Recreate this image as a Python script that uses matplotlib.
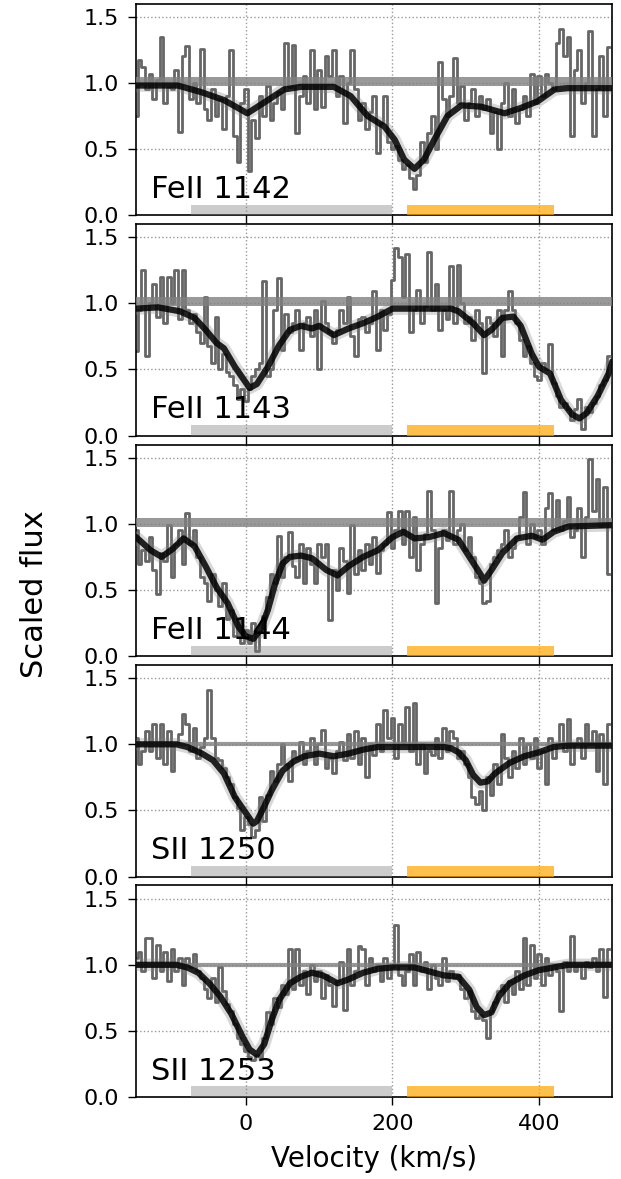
import numpy as np
import matplotlib
matplotlib.use("Agg")
import matplotlib.pyplot as plt

# line labels for each panel
labels = ["FeII 1142", "FeII 1143", "FeII 1144", "SII 1250", "SII 1253"]
continuum = [1.015, 1.02, 1.015, 1.0, 1.0]

# observed spectra, one value per 5 km/s starting at -150 km/s
flux_1142 = [0.75, 1.17, 1.12, 0.95, 1.07, 0.88, 1.02, 1.35, 0.85, 0.97,
             0.95, 1.10, 0.63, 1.20, 1.28, 0.88, 1.00, 0.85, 1.26, 0.80,
             0.72, 0.95, 0.75, 0.88, 0.65, 0.90, 1.25, 0.60, 0.40, 0.85,
             0.95, 0.33, 0.72, 0.58, 0.90, 0.75, 0.98, 0.72, 0.85, 0.93,
             0.80, 1.30, 0.97, 1.29, 0.62, 0.90, 1.05, 0.85, 1.25, 0.80,
             1.10, 0.82, 1.20, 1.05, 1.25, 0.90, 1.05, 0.70, 1.00, 1.25,
             0.95, 0.72, 0.85, 0.65, 0.78, 0.90, 0.47, 0.70, 0.90, 0.55,
             0.50, 0.52, 0.42, 0.35, 0.38, 0.28, 0.20, 0.30, 0.55, 0.40,
             0.62, 0.75, 0.50, 1.16, 0.88, 0.75, 0.90, 1.19, 0.85, 0.98,
             0.72, 0.85, 0.95, 0.75, 0.90, 0.80, 0.88, 0.62, 0.78, 0.50,
             0.85, 1.00, 0.75, 0.95, 0.70, 0.80, 0.90, 0.75, 1.07, 0.85,
             1.05, 0.90, 1.07, 1.00, 0.95, 1.30, 1.41, 1.20, 1.35, 0.60,
             1.10, 1.25, 0.85, 1.00, 1.39, 0.60, 0.95, 1.20, 0.75, 1.27]
flux_1143 = [0.64, 0.95, 1.25, 0.60, 1.00, 1.15, 0.90, 1.20, 0.85, 1.20,
             1.00, 1.25, 0.88, 1.25, 0.95, 0.85, 0.92, 0.78, 0.70, 1.05,
             0.68, 0.55, 0.90, 0.50, 0.62, 0.48, 0.45, 0.38, 0.28, 0.35,
             0.26, 0.35, 0.45, 0.50, 0.55, 1.17, 0.45, 0.50, 0.95, 1.19,
             0.65, 0.92, 0.78, 0.85, 0.95, 0.65, 0.85, 0.90, 0.75, 0.95,
             0.50, 1.02, 0.85, 0.78, 0.70, 0.80, 0.95, 0.85, 1.05, 0.75,
             0.60, 0.88, 0.90, 0.78, 0.85, 1.09, 0.65, 0.95, 0.80, 0.92,
             1.18, 1.42, 1.35, 1.05, 1.37, 0.78, 0.95, 1.10, 0.85, 0.98,
             1.39, 0.95, 1.15, 0.80, 0.95, 0.88, 1.28, 0.85, 1.29, 1.00,
             0.85, 0.90, 0.72, 0.95, 0.85, 0.47, 0.90, 0.85, 0.75, 0.95,
             0.60, 0.95, 1.09, 0.95, 0.85, 0.72, 0.60, 0.68, 0.55, 0.45,
             0.42, 0.55, 0.50, 0.69, 0.40, 0.30, 0.22, 0.25, 0.20, 0.12,
             0.20, 0.28, 0.05, 0.22, 0.18, 0.25, 0.30, 0.38, 0.42, 0.60]
flux_1144 = [0.95, 0.70, 0.80, 0.72, 0.90, 0.65, 0.47, 0.78, 0.72, 0.99,
             0.60, 0.85, 0.95, 0.70, 1.08, 0.85, 0.95, 0.75, 0.60, 0.55,
             0.42, 0.62, 0.50, 0.38, 0.55, 0.28, 0.35, 0.15, 0.28, 0.10,
             0.20, 0.10, 0.25, 0.04, 0.18, 0.30, 0.45, 0.62, 0.55, 0.91,
             0.60, 0.75, 0.94, 0.68, 0.60, 0.85, 0.55, 0.82, 0.70, 0.55,
             0.85, 0.75, 0.85, 0.27, 0.65, 0.50, 0.82, 0.72, 0.48, 0.99,
             0.62, 0.80, 0.65, 0.85, 0.70, 0.90, 0.63, 0.80, 0.85, 1.09,
             0.82, 0.95, 1.10, 0.85, 1.10, 0.75, 1.05, 0.65, 0.85, 0.92,
             1.25, 0.95, 0.40, 0.82, 0.95, 0.88, 1.25, 0.85, 0.95, 1.00,
             0.80, 0.90, 0.75, 0.60, 0.55, 0.40, 0.42, 0.70, 0.75, 0.80,
             0.85, 0.95, 0.75, 0.82, 0.90, 1.05, 1.24, 0.85, 1.00, 0.90,
             0.95, 0.85, 1.12, 1.23, 0.95, 1.18, 0.95, 1.02, 1.20, 0.90,
             0.95, 1.12, 0.75, 1.05, 1.49, 1.10, 1.34, 0.98, 1.28, 0.62]
flux_1250 = [1.05, 0.85, 0.95, 1.10, 0.95, 1.15, 0.90, 1.15, 0.85, 1.10,
             0.80, 1.00, 1.08, 1.23, 1.15, 0.95, 1.12, 0.90, 0.98, 1.05,
             1.41, 1.05, 0.90, 0.88, 0.82, 0.75, 0.70, 0.60, 0.52, 0.35,
             0.45, 0.40, 0.30, 0.35, 0.60, 0.42, 0.62, 0.80, 0.72, 0.85,
             1.00, 0.85, 0.72, 0.95, 0.90, 1.02, 0.85, 0.95, 1.05, 0.85,
             1.00, 1.11, 0.82, 0.90, 0.78, 0.95, 1.02, 0.88, 1.08, 0.90,
             1.10, 0.85, 1.05, 0.75, 1.00, 0.92, 1.15, 0.95, 1.26, 1.05,
             1.20, 0.90, 1.15, 1.02, 1.28, 0.95, 1.31, 0.85, 1.00, 0.78,
             0.95, 0.92, 1.05, 0.90, 1.12, 0.95, 1.10, 1.05, 0.90, 0.95,
             0.85, 0.75, 0.60, 0.55, 0.65, 0.50, 0.75, 0.62, 0.85, 0.70,
             1.08, 0.90, 0.75, 0.95, 0.82, 1.05, 0.85, 1.00, 0.90, 1.05,
             0.82, 0.95, 0.70, 1.05, 0.90, 1.00, 1.15, 0.95, 1.19, 0.85,
             1.00, 1.05, 0.90, 1.15, 1.00, 1.10, 0.80, 1.08, 0.70, 1.15]
flux_1253 = [1.05, 1.10, 0.95, 1.20, 1.20, 0.90, 1.15, 0.95, 1.10, 0.88,
             1.12, 0.95, 1.05, 0.85, 1.05, 0.98, 1.08, 0.95, 0.90, 0.82,
             0.75, 0.90, 0.72, 0.98, 0.80, 0.70, 0.65, 0.55, 0.45, 0.40,
             0.35, 0.30, 0.28, 0.32, 0.30, 0.45, 0.64, 0.55, 0.75, 0.68,
             0.85, 0.78, 1.12, 0.82, 1.12, 0.85, 0.95, 0.78, 1.00, 0.88,
             0.95, 0.75, 0.92, 0.85, 0.69, 0.88, 1.02, 0.66, 1.12, 0.85,
             0.95, 1.14, 1.12, 0.85, 1.05, 0.95, 1.00, 0.88, 1.05, 0.90,
             0.98, 1.30, 0.92, 0.85, 0.95, 1.08, 0.85, 1.10, 0.95, 1.02,
             0.82, 1.00, 0.90, 0.85, 1.05, 0.88, 0.95, 0.90, 0.92, 0.82,
             0.75, 0.80, 0.65, 0.60, 0.62, 0.58, 0.45, 0.65, 0.72, 0.80,
             0.85, 0.72, 0.88, 0.78, 0.95, 0.82, 1.20, 0.85, 1.15, 0.90,
             1.08, 0.85, 1.05, 0.92, 1.00, 0.95, 0.65, 1.02, 0.95, 1.22,
             0.95, 1.00, 0.90, 1.02, 0.98, 1.05, 0.95, 1.12, 0.76, 1.12]
fluxes = [flux_1142, flux_1143, flux_1144, flux_1250, flux_1253]

# best-fit models (velocity, flux)
mv_1142 = [-150, -93, -61, -30, 2, 30, 52, 75, 120, 143, 166, 189, 203, 216, 230, 243,
           257, 275, 294, 321, 353, 375, 398, 421, 439, 500]
mf_1142 = [0.98, 0.98, 0.93, 0.87, 0.77, 0.87, 0.95, 0.97, 0.97, 0.90, 0.75, 0.67, 0.57,
           0.42, 0.35, 0.42, 0.57, 0.75, 0.83, 0.82, 0.77, 0.81, 0.86, 0.95, 0.96, 0.96]
mv_1143 = [-150, -120, -90, -70, -55, -40, -30, -15, 0, 5, 15, 30, 45, 60, 75, 90, 100,
           120, 140, 160, 180, 200, 280, 290, 310, 325, 335, 350, 365, 375, 390, 400,
           415, 430, 445, 455, 465, 480, 495, 500]
mf_1143 = [0.96, 0.97, 0.94, 0.89, 0.80, 0.70, 0.66, 0.52, 0.40, 0.36, 0.39, 0.52, 0.68,
           0.80, 0.83, 0.81, 0.83, 0.76, 0.81, 0.85, 0.90, 0.96, 0.96, 0.94, 0.85, 0.76,
           0.80, 0.89, 0.90, 0.83, 0.62, 0.52, 0.47, 0.27, 0.16, 0.13, 0.17, 0.30, 0.47,
           0.56]
mv_1144 = [-150, -130, -115, -100, -85, -70, -55, -40, -25, -10, 0, 10, 20, 30, 40, 50,
           60, 75, 90, 110, 125, 140, 160, 180, 200, 215, 230, 250, 270, 290, 305, 320,
           325, 335, 350, 370, 390, 405, 420, 440, 500]
mf_1144 = [0.90, 0.80, 0.75, 0.81, 0.89, 0.83, 0.68, 0.52, 0.40, 0.22, 0.15, 0.13, 0.20,
           0.35, 0.55, 0.70, 0.75, 0.76, 0.74, 0.65, 0.61, 0.68, 0.75, 0.80, 0.90, 0.94,
           0.89, 0.90, 0.93, 0.88, 0.75, 0.62, 0.57, 0.65, 0.78, 0.89, 0.91, 0.88, 0.94,
           0.98, 0.99]
mv_1250 = [-150, -95, -80, -60, -45, -30, -15, 0, 10, 15, 25, 35, 50, 65, 80, 100, 120,
           140, 160, 180, 270, 280, 290, 300, 310, 320, 330, 340, 360, 380, 400, 420,
           440, 500]
mf_1250 = [1.00, 1.00, 0.98, 0.93, 0.88, 0.78, 0.60, 0.48, 0.40, 0.42, 0.53, 0.65, 0.80,
           0.87, 0.91, 0.93, 0.91, 0.93, 0.96, 0.98, 0.98, 0.97, 0.94, 0.88, 0.77, 0.71,
           0.72, 0.78, 0.86, 0.91, 0.94, 0.98, 0.99, 0.99]
mv_1253 = [-150, -95, -80, -65, -50, -35, -20, -5, 5, 15, 25, 35, 45, 60, 75, 90, 105,
           125, 140, 160, 180, 200, 230, 250, 270, 290, 305, 315, 325, 335, 345, 360,
           380, 400, 420, 440, 500]
mf_1253 = [1.00, 1.00, 0.98, 0.94, 0.86, 0.76, 0.63, 0.46, 0.36, 0.32, 0.40, 0.58, 0.73,
           0.86, 0.91, 0.94, 0.92, 0.86, 0.89, 0.94, 0.97, 0.98, 0.98, 0.95, 0.92, 0.91,
           0.81, 0.68, 0.62, 0.64, 0.76, 0.86, 0.92, 0.96, 0.98, 1.00, 1.00]
model_v = [mv_1142, mv_1143, mv_1144, mv_1250, mv_1253]
model_f = [mf_1142, mf_1143, mf_1144, mf_1250, mf_1253]

# velocity ranges of the two components
comp1 = [-75, 200]
comp2 = [220, 420]

fig, axes = plt.subplots(5, 1, figsize=(6.21, 11.79), dpi=100, sharex=True)
fig.subplots_adjust(left=0.219, right=0.986, top=0.997, bottom=0.0695, hspace=0.042)

for i, ax in enumerate(axes):
    vel = -150 + 5 * np.arange(len(fluxes[i]))
    ax.grid(True, ls=":", color="0.6", lw=1)
    ax.plot(vel, fluxes[i], drawstyle="steps-mid", color="#666666", lw=2.0, zorder=2)
    ax.axhline(continuum[i], color="gray", lw=6.5 if i < 3 else 3, alpha=0.8, zorder=3)
    ax.plot(model_v[i], model_f[i], color="gray", lw=9, alpha=0.3, zorder=4,
            solid_capstyle="round", solid_joinstyle="round")
    ax.plot(model_v[i], model_f[i], color="black", lw=4.5, alpha=0.85, zorder=5,
            solid_capstyle="round", solid_joinstyle="round")
    ax.fill_between(comp1, 0, 0.08, color="gray", alpha=0.4, lw=0, zorder=6)
    ax.fill_between(comp2, 0, 0.08, color="orange", alpha=0.7, lw=0, zorder=6)
    ax.text(-130, 0.13, labels[i], fontsize=22, va="baseline", zorder=7)
    ax.set_xlim(-150, 500)
    ax.set_ylim(0, 1.6)
    ax.set_yticks([0.0, 0.5, 1.0, 1.5])
    ax.set_xticks([0, 200, 400])
    ax.tick_params(labelsize=16, length=5.5, width=1, pad=6.5)
    for s in ax.spines.values():
        s.set_linewidth(1.2)

axes[-1].set_xlabel("Velocity (km/s)", fontsize=20, labelpad=8)
fig.text(0.055, 0.496, "Scaled flux", rotation=90, fontsize=22, ha="center", va="center")

plt.savefig("out.png", dpi=100)
